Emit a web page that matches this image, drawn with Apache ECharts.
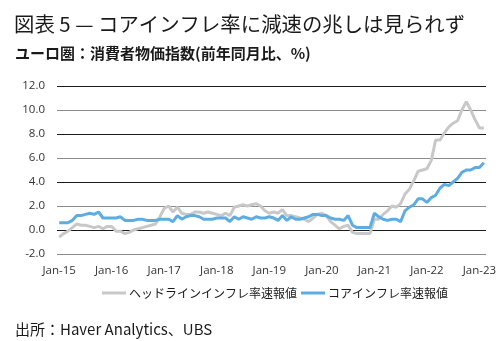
<!DOCTYPE html>
<html>
<head>
<meta charset="utf-8">
<script src="https://cdn.jsdelivr.net/npm/echarts@6/dist/echarts.min.js"></script>
<style>
  html, body { margin: 0; padding: 0; background: #fff; }
  #chart { width: 504px; height: 341px; }
</style>
</head>
<body>
<div id="chart"></div>
<script>
// Euro area HICP, year-on-year %, flash estimates, Jan-2015 .. Feb-2023
const startYear = 2015;
const monthCount = 98;
const monthNames = ['Jan','Feb','Mar','Apr','May','Jun','Jul','Aug','Sep','Oct','Nov','Dec'];

const headline = [
  -0.6, -0.3, -0.1, 0.2, 0.5, 0.4, 0.4, 0.3, 0.2, 0.3, 0.1, 0.3,   // 2015
  0.3, -0.1, -0.1, -0.3, -0.2, 0.0, 0.1, 0.2, 0.3, 0.4, 0.5, 1.1,  // 2016
  1.8, 2.0, 1.5, 1.9, 1.4, 1.3, 1.3, 1.5, 1.5, 1.4, 1.5, 1.4,      // 2017
  1.3, 1.2, 1.4, 1.2, 1.9, 2.0, 2.1, 2.0, 2.1, 2.2, 2.0, 1.6,      // 2018
  1.4, 1.5, 1.4, 1.7, 1.2, 1.2, 1.1, 1.0, 0.9, 0.7, 1.0, 1.3,      // 2019
  1.4, 1.2, 0.7, 0.4, 0.1, 0.3, 0.4, -0.2, -0.3, -0.3, -0.3, -0.3, // 2020
  0.9, 0.9, 1.3, 1.6, 2.0, 1.9, 2.2, 3.0, 3.4, 4.1, 4.9, 5.0,      // 2021
  5.1, 5.8, 7.5, 7.5, 8.1, 8.6, 8.9, 9.1, 10.0, 10.7, 10.0, 9.2,   // 2022
  8.5, 8.5                                                         // 2023
];

const core = [
  0.6, 0.6, 0.6, 0.8, 1.2, 1.2, 1.3, 1.4, 1.3, 1.5, 1.0, 1.0,      // 2015
  1.0, 1.0, 1.1, 0.8, 0.8, 0.8, 0.9, 0.9, 0.8, 0.8, 0.8, 0.9,      // 2016
  0.9, 0.9, 0.7, 1.2, 0.9, 1.1, 1.2, 1.2, 1.1, 0.9, 0.9, 0.9,      // 2017
  1.0, 1.0, 1.0, 0.7, 1.1, 0.9, 1.1, 1.0, 0.9, 1.1, 1.0, 1.0,      // 2018
  1.1, 1.0, 0.8, 1.2, 0.8, 1.1, 0.9, 0.9, 1.0, 1.1, 1.3, 1.3,      // 2019
  1.2, 1.2, 1.0, 0.9, 0.9, 0.8, 1.2, 0.4, 0.2, 0.2, 0.2, 0.2,      // 2020
  1.4, 1.1, 0.9, 0.8, 0.9, 0.9, 0.7, 1.6, 1.9, 2.1, 2.6, 2.6,      // 2021
  2.3, 2.7, 2.9, 3.5, 3.8, 3.7, 4.0, 4.3, 4.8, 5.0, 5.0, 5.2,      // 2022
  5.2, 5.6                                                         // 2023
];

const seriesNames = ['ヘッドラインインフレ率速報値', 'コアインフレ率速報値'];
const titleText = '図表 5 — コアインフレ率に減速の兆しは見られず';
const subtitleText = 'ユーロ圏：消費者物価指数(前年同月比、%)';
const sourceText = '出所：Haver Analytics、UBS';

// month labels such as "Jan-15"
const months = [];
for (let i = 0; i < monthCount; i++) {
  const y = startYear + Math.floor(i / 12);
  months.push(monthNames[i % 12] + '-' + String(y % 100).padStart(2, '0'));
}

const jpFont = '"Noto Sans CJK JP", "Noto Sans", sans-serif';
const latinFont = '"Open Sans", "Noto Sans", sans-serif';

const chart = echarts.init(document.getElementById('chart'), null, { renderer: 'canvas' });
chart.setOption({
  animation: false,
  backgroundColor: '#fff',
  title: [
    { text: titleText, left: 9, top: 9,
      textStyle: { fontFamily: jpFont, fontSize: 20.4, fontWeight: 'normal', color: '#1a1a1a' } },
    { text: subtitleText, left: 10, top: 41,
      textStyle: { fontFamily: jpFont, fontSize: 15, fontWeight: 'bold', color: '#1a1a1a' } },
    { text: sourceText, left: 10, top: 317,
      textStyle: { fontFamily: jpFont, fontSize: 15, fontWeight: 'normal', color: '#1a1a1a' } }
  ],
  legend: {
    left: 97, top: 282,
    itemWidth: 24, itemHeight: 3, itemGap: 4,
    icon: 'rect',
    textStyle: { fontFamily: jpFont, fontSize: 12, color: '#1a1a1a', padding: [0, 0, 0, -2] },
    data: seriesNames
  },
  grid: { left: 57, right: 18, top: 86, bottom: 87 },
  xAxis: {
    type: 'category',
    data: months,
    boundaryGap: true,
    axisLine: { show: false },
    axisTick: { show: false },
    axisLabel: { interval: 11, margin: 11, fontFamily: latinFont, fontSize: 11.5, color: '#333' },
    splitLine: { show: false }
  },
  yAxis: {
    type: 'value',
    min: -2, max: 12, interval: 2,
    axisLine: { show: false },
    axisTick: { show: false },
    axisLabel: {
      margin: 12, fontFamily: latinFont, fontSize: 11.5, color: '#333',
      formatter: v => v.toFixed(1)
    },
    splitLine: { show: true, lineStyle: { width: 1, color: ['#8c8c8c', '#1a1a1a'] } }
  },
  series: [
    { name: seriesNames[0], type: 'line', data: headline, showSymbol: false,
      color: '#c8c8c8', lineStyle: { width: 3, color: '#c8c8c8' }, z: 2 },
    { name: seriesNames[1], type: 'line', data: core, showSymbol: false,
      color: '#5dade2', lineStyle: { width: 3, color: '#5dade2' }, z: 3 }
  ]
});
</script>
</body>
</html>
